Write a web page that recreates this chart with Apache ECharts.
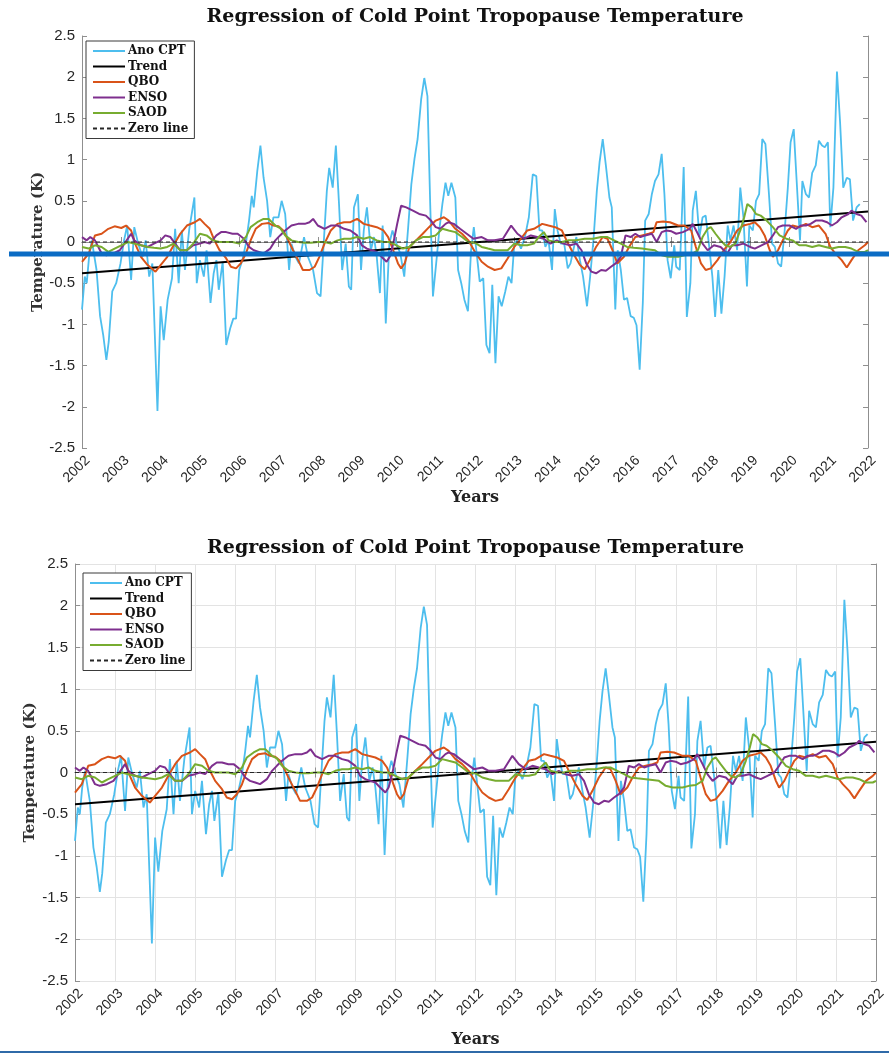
<!DOCTYPE html>
<html>
<head>
<meta charset="utf-8">
<script src="https://cdn.jsdelivr.net/npm/echarts@6/dist/echarts.min.js"></script>
<style>
  html, body { margin: 0; padding: 0; background: #fff; }
  #chart { width: 889px; height: 1054px; }
</style>
</head>
<body>
<div id="chart"></div>
<script>
// values, [decimal year, K]
const anoCpt = [
  [2002.00,-0.82],[2002.07,-0.42],[2002.12,-0.50],[2002.18,-0.18],[2002.25,0.02],[2002.37,-0.34],[2002.46,-0.90],
  [2002.54,-1.13],[2002.62,-1.43],[2002.68,-1.21],[2002.77,-0.60],[2002.87,-0.50],[2002.98,-0.26],[2003.07,0.02],
  [2003.15,0.20],[2003.25,-0.46],[2003.33,0.18],[2003.43,-0.02],[2003.54,-0.18],[2003.62,0.02],[2003.71,-0.42],
  [2003.79,-0.26],[2003.92,-2.05],[2004.00,-0.78],[2004.08,-1.19],[2004.18,-0.70],[2004.29,-0.44],[2004.37,0.16],
  [2004.46,-0.50],[2004.54,0.14],[2004.62,-0.34],[2004.73,0.16],[2004.86,0.54],[2004.92,-0.50],[2005.00,-0.22],
  [2005.10,-0.42],[2005.17,-0.10],[2005.27,-0.74],[2005.35,-0.38],[2005.42,-0.22],[2005.48,-0.58],[2005.58,-0.24],
  [2005.67,-1.25],[2005.77,-1.05],[2005.85,-0.93],[2005.92,-0.93],[2006.00,-0.34],[2006.08,-0.22],[2006.17,-0.02],
  [2006.25,0.26],[2006.32,0.56],[2006.37,0.42],[2006.46,0.86],[2006.54,1.17],[2006.62,0.78],[2006.71,0.50],
  [2006.79,0.06],[2006.87,0.30],[2007.00,0.30],[2007.08,0.50],[2007.17,0.34],[2007.27,-0.34],[2007.33,-0.02],
  [2007.43,-0.18],[2007.52,-0.26],[2007.65,0.06],[2007.75,-0.18],[2007.88,-0.34],[2007.98,-0.62],[2008.07,-0.66],
  [2008.15,-0.02],[2008.23,0.62],[2008.29,0.90],[2008.38,0.66],[2008.46,1.17],[2008.54,0.46],[2008.62,-0.34],
  [2008.71,-0.02],[2008.79,-0.54],[2008.85,-0.58],[2008.92,0.42],[2009.02,0.58],[2009.10,-0.34],[2009.17,0.14],
  [2009.25,0.42],[2009.35,-0.10],[2009.43,0.06],[2009.50,-0.18],[2009.58,-0.62],[2009.65,0.20],[2009.73,-0.99],
  [2009.82,-0.02],[2009.90,0.14],[2010.00,-0.02],[2010.10,-0.14],[2010.20,-0.42],[2010.30,0.18],[2010.38,0.70],
  [2010.46,1.01],[2010.54,1.25],[2010.63,1.73],[2010.71,1.99],[2010.79,1.77],[2010.86,0.46],[2010.93,-0.66],
  [2011.02,-0.22],[2011.10,0.18],[2011.17,0.46],[2011.25,0.72],[2011.32,0.56],[2011.40,0.72],[2011.50,0.54],
  [2011.57,-0.34],[2011.65,-0.50],[2011.73,-0.70],[2011.82,-0.84],[2011.90,-0.10],[2011.97,0.18],[2012.07,-0.26],
  [2012.12,-0.48],[2012.21,-0.44],[2012.29,-1.25],[2012.37,-1.35],[2012.44,-0.52],[2012.52,-1.47],[2012.60,-0.66],
  [2012.68,-0.78],[2012.77,-0.60],[2012.85,-0.42],[2012.93,-0.50],[2013.00,-0.02],[2013.08,0.02],[2013.17,-0.08],
  [2013.27,0.06],[2013.37,0.30],[2013.47,0.82],[2013.56,0.80],[2013.64,0.14],[2013.71,0.14],[2013.79,-0.06],
  [2013.87,0.02],[2013.96,-0.34],[2014.03,0.40],[2014.10,0.14],[2014.18,-0.02],[2014.27,-0.02],[2014.36,-0.32],
  [2014.43,-0.26],[2014.50,-0.10],[2014.58,0.06],[2014.67,-0.22],[2014.75,-0.42],[2014.85,-0.78],[2014.93,-0.42],
  [2015.02,0.06],[2015.10,0.62],[2015.17,0.97],[2015.25,1.25],[2015.33,0.93],[2015.42,0.54],[2015.48,0.42],
  [2015.57,-0.82],[2015.63,-0.10],[2015.71,-0.34],[2015.79,-0.70],[2015.87,-0.68],[2015.96,-0.90],[2016.04,-0.92],
  [2016.11,-1.01],[2016.19,-1.55],[2016.27,-0.74],[2016.33,0.26],[2016.42,0.34],[2016.50,0.58],[2016.58,0.74],
  [2016.67,0.82],[2016.75,1.07],[2016.82,0.58],[2016.90,-0.22],[2016.98,-0.44],[2017.07,-0.04],[2017.12,-0.30],
  [2017.21,-0.34],[2017.25,0.14],[2017.31,0.91],[2017.39,-0.91],[2017.48,-0.50],[2017.54,0.38],[2017.62,0.62],
  [2017.71,0.06],[2017.79,0.30],[2017.87,0.32],[2017.96,-0.06],[2018.04,-0.42],[2018.11,-0.91],[2018.19,-0.34],
  [2018.27,-0.87],[2018.35,-0.42],[2018.43,0.20],[2018.50,0.02],[2018.58,0.20],[2018.67,-0.10],[2018.75,0.66],
  [2018.83,0.30],[2018.92,-0.54],[2018.98,0.20],[2019.07,0.14],[2019.15,0.50],[2019.23,0.58],[2019.31,1.25],
  [2019.39,1.19],[2019.48,0.58],[2019.56,-0.02],[2019.63,-0.06],[2019.71,-0.26],[2019.79,-0.30],[2019.88,0.14],
  [2019.96,0.66],[2020.03,1.21],[2020.11,1.37],[2020.18,0.78],[2020.27,0.02],[2020.33,0.74],[2020.42,0.58],
  [2020.50,0.54],[2020.58,0.84],[2020.67,0.93],[2020.75,1.23],[2020.83,1.17],[2020.90,1.15],[2020.98,1.21],
  [2021.04,0.18],[2021.12,0.66],[2021.21,2.07],[2021.29,1.45],[2021.37,0.66],[2021.46,0.78],[2021.54,0.76],
  [2021.62,0.26],[2021.71,0.42],[2021.79,0.46]
]
const trend = [[2002, -0.38], [2022, 0.37]]
const zeroLine = [[2002, 0], [2022, 0]]
const qbo = [
  [2002.00,-0.24],[2002.17,-0.14],[2002.33,0.08],[2002.50,0.10],[2002.67,0.16],[2002.83,0.19],[2003.00,0.17],
  [2003.12,0.20],[2003.25,0.14],[2003.37,-0.04],[2003.50,-0.18],[2003.67,-0.28],[2003.87,-0.36],[2004.00,-0.28],
  [2004.17,-0.18],[2004.33,-0.04],[2004.50,0.10],[2004.67,0.20],[2004.87,0.24],[2005.00,0.28],[2005.12,0.22],
  [2005.25,0.16],[2005.37,0.02],[2005.50,-0.10],[2005.67,-0.20],[2005.79,-0.30],[2005.92,-0.32],[2006.04,-0.26],
  [2006.17,-0.14],[2006.29,0.02],[2006.42,0.16],[2006.58,0.22],[2006.75,0.23],[2006.87,0.20],[2007.00,0.19],
  [2007.12,0.14],[2007.25,0.02],[2007.37,-0.10],[2007.50,-0.22],[2007.62,-0.34],[2007.79,-0.34],[2007.92,-0.30],
  [2008.04,-0.18],[2008.17,-0.02],[2008.33,0.14],[2008.50,0.22],[2008.67,0.24],[2008.83,0.24],[2009.00,0.28],
  [2009.17,0.22],[2009.33,0.20],[2009.50,0.18],[2009.67,0.14],[2009.79,0.06],[2009.92,-0.10],[2010.04,-0.26],
  [2010.12,-0.32],[2010.21,-0.26],[2010.33,-0.06],[2010.50,0.02],[2010.67,0.10],[2010.83,0.18],[2011.00,0.26],
  [2011.21,0.30],[2011.33,0.26],[2011.50,0.16],[2011.67,0.10],[2011.83,0.02],[2012.00,-0.12],[2012.17,-0.24],
  [2012.33,-0.30],[2012.50,-0.34],[2012.67,-0.32],[2012.83,-0.20],[2013.00,-0.06],[2013.17,0.04],[2013.33,0.14],
  [2013.50,0.16],[2013.71,0.22],[2013.87,0.20],[2014.04,0.18],[2014.21,0.14],[2014.33,0.02],[2014.50,-0.14],
  [2014.67,-0.28],[2014.79,-0.33],[2014.92,-0.22],[2015.08,-0.06],[2015.25,0.06],[2015.37,0.04],[2015.50,-0.10],
  [2015.62,-0.26],[2015.79,-0.18],[2015.92,-0.06],[2016.08,0.06],[2016.25,0.08],[2016.42,0.10],[2016.54,0.12],
  [2016.62,0.24],[2016.79,0.25],[2016.96,0.24],[2017.17,0.20],[2017.33,0.20],[2017.50,0.14],[2017.62,-0.06],
  [2017.75,-0.26],[2017.87,-0.34],[2018.00,-0.32],[2018.17,-0.22],[2018.33,-0.10],[2018.50,0.00],[2018.67,0.14],
  [2018.83,0.20],[2019.00,0.22],[2019.12,0.24],[2019.25,0.18],[2019.37,0.08],[2019.50,-0.10],[2019.58,-0.18],
  [2019.71,-0.10],[2019.83,0.02],[2019.96,0.14],[2020.08,0.20],[2020.25,0.18],[2020.42,0.22],[2020.58,0.18],
  [2020.75,0.20],[2020.92,0.10],[2021.04,-0.06],[2021.17,-0.14],[2021.33,-0.22],[2021.46,-0.31],[2021.58,-0.22],
  [2021.75,-0.10],[2021.92,-0.04],[2022.00,0.00]
]
const enso = [
  [2002.00,0.06],[2002.12,0.02],[2002.21,0.06],[2002.33,0.02],[2002.50,-0.14],[2002.62,-0.16],[2002.79,-0.14],
  [2002.96,-0.10],[2003.08,-0.02],[2003.25,0.10],[2003.33,0.02],[2003.50,-0.04],[2003.67,-0.06],[2003.83,-0.02],
  [2004.00,0.02],[2004.12,0.08],[2004.25,0.06],[2004.37,-0.02],[2004.50,-0.10],[2004.67,-0.10],[2004.83,-0.04],
  [2005.00,-0.02],[2005.12,0.00],[2005.25,-0.02],[2005.42,0.08],[2005.54,0.12],[2005.67,0.12],[2005.83,0.10],
  [2005.96,0.10],[2006.12,0.04],[2006.25,-0.06],[2006.37,-0.10],[2006.50,-0.12],[2006.62,-0.14],[2006.79,-0.08],
  [2006.92,0.02],[2007.04,0.08],[2007.17,0.14],[2007.33,0.20],[2007.50,0.22],[2007.67,0.22],[2007.79,0.24],
  [2007.88,0.28],[2008.00,0.20],[2008.17,0.16],[2008.33,0.20],[2008.50,0.20],[2008.67,0.16],[2008.83,0.14],
  [2009.00,0.08],[2009.12,-0.04],[2009.25,-0.08],[2009.37,-0.10],[2009.50,-0.12],[2009.62,-0.18],[2009.75,-0.24],
  [2009.83,-0.18],[2009.92,-0.02],[2010.02,0.22],[2010.12,0.44],[2010.25,0.42],[2010.42,0.38],[2010.58,0.34],
  [2010.75,0.32],[2010.88,0.26],[2011.00,0.18],[2011.12,0.16],[2011.25,0.22],[2011.33,0.24],[2011.46,0.22],
  [2011.62,0.16],[2011.79,0.10],[2011.96,0.04],[2012.17,0.06],[2012.33,0.02],[2012.50,0.02],[2012.71,0.04],
  [2012.92,0.20],[2013.08,0.10],[2013.25,0.04],[2013.42,0.08],[2013.58,0.06],[2013.75,0.04],[2013.92,-0.02],
  [2014.08,0.02],[2014.25,-0.02],[2014.42,-0.04],[2014.58,-0.02],[2014.71,-0.10],[2014.83,-0.26],[2014.96,-0.36],
  [2015.08,-0.38],[2015.21,-0.34],[2015.33,-0.35],[2015.46,-0.30],[2015.58,-0.26],[2015.71,-0.18],[2015.83,0.08],
  [2015.96,0.06],[2016.08,0.10],[2016.21,0.06],[2016.33,0.08],[2016.50,0.10],[2016.62,0.00],[2016.75,0.12],
  [2016.87,0.14],[2017.00,0.13],[2017.12,0.10],[2017.29,0.12],[2017.46,0.16],[2017.54,0.22],[2017.67,0.10],
  [2017.79,-0.02],[2017.92,-0.10],[2018.08,-0.04],[2018.25,-0.06],[2018.42,-0.14],[2018.54,-0.04],[2018.67,-0.04],
  [2018.83,-0.02],[2019.00,-0.06],[2019.12,-0.08],[2019.29,-0.04],[2019.46,0.00],[2019.58,0.08],[2019.71,0.18],
  [2019.83,0.20],[2020.00,0.20],[2020.17,0.16],[2020.29,0.20],[2020.42,0.20],[2020.54,0.22],[2020.67,0.26],
  [2020.83,0.26],[2020.96,0.24],[2021.08,0.20],[2021.21,0.24],[2021.33,0.30],[2021.50,0.34],[2021.58,0.38],
  [2021.71,0.34],[2021.83,0.32],[2021.96,0.24]
]
const saod = [
  [2002.00,-0.06],[2002.17,-0.08],[2002.33,-0.04],[2002.50,-0.06],[2002.67,-0.12],[2002.83,-0.08],[2003.00,-0.04],
  [2003.17,0.00],[2003.33,-0.02],[2003.50,-0.04],[2003.67,-0.06],[2003.83,-0.07],[2004.00,-0.08],[2004.17,-0.06],
  [2004.33,-0.02],[2004.50,-0.10],[2004.67,-0.10],[2004.83,-0.02],[2005.00,0.10],[2005.17,0.08],[2005.33,0.02],
  [2005.50,0.00],[2005.67,0.00],[2005.83,0.00],[2006.00,-0.02],[2006.17,0.06],[2006.29,0.18],[2006.46,0.24],
  [2006.62,0.28],[2006.75,0.28],[2006.92,0.20],[2007.04,0.17],[2007.17,0.08],[2007.33,0.02],[2007.50,0.00],
  [2007.67,-0.01],[2007.83,-0.01],[2008.00,0.00],[2008.17,0.00],[2008.33,-0.02],[2008.50,0.02],[2008.67,0.04],
  [2008.83,0.04],[2009.00,0.06],[2009.17,0.04],[2009.33,0.06],[2009.50,0.02],[2009.67,0.00],[2009.83,0.00],
  [2010.00,-0.04],[2010.17,-0.08],[2010.33,-0.06],[2010.50,0.02],[2010.67,0.06],[2010.83,0.06],[2011.00,0.08],
  [2011.17,0.16],[2011.33,0.14],[2011.50,0.12],[2011.67,0.06],[2011.83,0.00],[2012.00,-0.01],[2012.17,-0.06],
  [2012.33,-0.08],[2012.50,-0.10],[2012.67,-0.10],[2012.83,-0.10],[2013.00,-0.02],[2013.17,-0.04],[2013.33,-0.04],
  [2013.50,-0.02],[2013.62,0.06],[2013.75,0.12],[2013.87,0.02],[2014.04,0.00],[2014.21,0.00],[2014.37,0.02],
  [2014.58,0.02],[2014.79,0.04],[2015.00,0.04],[2015.21,0.06],[2015.37,0.06],[2015.54,0.02],[2015.71,-0.02],
  [2015.87,-0.06],[2016.04,-0.07],[2016.25,-0.08],[2016.42,-0.09],[2016.58,-0.10],[2016.75,-0.16],[2016.92,-0.18],
  [2017.17,-0.18],[2017.33,-0.16],[2017.50,-0.15],[2017.67,-0.10],[2017.79,0.06],[2017.92,0.16],[2018.00,0.18],
  [2018.12,0.10],[2018.25,0.02],[2018.37,-0.04],[2018.50,-0.06],[2018.62,-0.02],[2018.75,0.14],[2018.85,0.30],
  [2018.93,0.46],[2019.04,0.42],[2019.15,0.34],[2019.27,0.32],[2019.42,0.26],[2019.58,0.18],[2019.75,0.08],
  [2019.92,0.04],[2020.08,0.02],[2020.25,-0.04],[2020.42,-0.04],[2020.58,-0.06],[2020.75,-0.04],[2020.92,-0.06],
  [2021.08,-0.08],[2021.25,-0.06],[2021.42,-0.06],[2021.58,-0.08],[2021.75,-0.12],[2021.92,-0.12],[2022.00,-0.10]
]
const yearTicks = [2002, 2022]
const seriesNames = ["Ano CPT", "Trend", "QBO", "ENSO", "SAOD", "Zero line"]
const seriesColors = ["#4DBEEE", "#000000", "#D95319", "#7E2F8E", "#77AC30", "#262626"]
const titleText = "Regression of Cold Point Tropopause Temperature"

const chart = echarts.init(document.getElementById("chart"), null, { renderer: "canvas" })

const axisGray = "#8f8f8f"
const tickFont = "Liberation Sans"
const serif = "DejaVu Serif"

// two stacked panels, top without grid lines, bottom with grid
const panels = [
	{ left: 82, top: 36, width: 786, height: 412, grid: false, legendLeft: 86, legendTop: 41, titleY: 17, yLabelX: 38, yearsY: 498 },
	{ left: 75, top: 564, width: 801, height: 417, grid: true, legendLeft: 83, legendTop: 573, titleY: 548, yLabelX: 30, yearsY: 1040 },
]

const grid = []
const xAxis = []
const yAxis = []
const series = []
const legend = []
const graphic = []

panels.forEach((p, idx) => {
	grid.push({ left: p.left, top: p.top, width: p.width, height: p.height, containLabel: false })
	const splitLine = { show: p.grid, lineStyle: { color: "#e3e3e3", width: 1 } }
	xAxis.push({
		type: "value",
		gridIndex: idx,
		min: yearTicks[0],
		max: yearTicks[1],
		interval: 1,
		axisLine: { show: true, lineStyle: { color: axisGray, width: 1 } },
		axisTick: { show: true, inside: true, length: 5, lineStyle: { color: axisGray } },
		axisLabel: {
			rotate: 45,
			margin: 16,
			padding: [0, -8, 0, 0],
			color: "#262626",
			fontFamily: tickFont,
			fontSize: 14,
			formatter: v => String(v),
		},
		splitLine,
	})
	xAxis.push({
		type: "value",
		gridIndex: idx,
		position: "top",
		min: yearTicks[0],
		max: yearTicks[1],
		interval: 1,
		axisLine: { show: true, lineStyle: { color: axisGray, width: 1 } },
		axisTick: { show: true, inside: true, length: 5, lineStyle: { color: axisGray } },
		axisLabel: { show: false },
		splitLine: { show: false },
	})
	yAxis.push({
		type: "value",
		gridIndex: idx,
		min: -2.5,
		max: 2.5,
		interval: 0.5,
		axisLine: { show: true, lineStyle: { color: axisGray, width: 1 } },
		axisTick: { show: true, inside: true, length: 5, lineStyle: { color: axisGray } },
		axisLabel: {
			margin: 7,
			color: "#262626",
			fontFamily: tickFont,
			fontSize: 15,
			formatter: v => String(v),
		},
		splitLine,
	})
	yAxis.push({
		type: "value",
		gridIndex: idx,
		position: "right",
		min: -2.5,
		max: 2.5,
		interval: 0.5,
		axisLine: { show: true, lineStyle: { color: axisGray, width: 1 } },
		axisTick: { show: true, inside: true, length: 5, lineStyle: { color: axisGray } },
		axisLabel: { show: false },
		splitLine: { show: false },
	})

	const datasets = [anoCpt, trend, qbo, enso, saod, zeroLine]
	datasets.forEach((data, i) => {
		series.push({
			name: seriesNames[i],
			type: "line",
			xAxisIndex: idx * 2,
			yAxisIndex: idx * 2,
			data,
			symbol: "none",
			silent: true,
			z: i === 0 ? 2 : 3,
			color: seriesColors[i],
			lineStyle: {
				color: seriesColors[i],
				width: i === 5 ? 1 : i === 0 ? 1.8 : 2,
				type: i === 5 ? [4, 3] : "solid",
			},
		})
	})

	legend.push({
		orient: "vertical",
		left: p.legendLeft,
		top: p.legendTop,
		data: seriesNames,
		itemWidth: 32,
		itemHeight: 12,
		itemGap: 3.5,
		padding: [4, 6, 4, 6],
		backgroundColor: "#fff",
		borderColor: "#3a3a3a",
		borderWidth: 1,
		borderRadius: 0,
		selectedMode: false,
		itemStyle: { opacity: 0 },
		textStyle: { fontFamily: serif, fontWeight: "bold", fontSize: 12, color: "#111", padding: [0, 0, 0, -2] },
	})

	graphic.push(
		{
			type: "text",
			x: p.left + p.width / 2,
			y: p.titleY,
			style: { text: titleText, font: `bold 19px '${serif}'`, fill: "#111", textAlign: "center", textVerticalAlign: "middle" },
		},
		{
			type: "text",
			x: p.left + p.width / 2,
			y: p.yearsY,
			style: { text: "Years", font: `bold 16px '${serif}'`, fill: "#222", textAlign: "center", textVerticalAlign: "middle" },
		},
		{
			type: "text",
			x: p.yLabelX,
			y: p.top + p.height / 2,
			rotation: Math.PI / 2,
			style: { text: "Temperature (K)", font: `bold 15px '${serif}'`, fill: "#333", textAlign: "center", textVerticalAlign: "middle" },
		}
	)
})

// annotation strokes laid over the figure
graphic.push(
	{ type: "line", z: 100, shape: { x1: 9, y1: 254, x2: 889, y2: 254 }, style: { stroke: "#0b6cc4", lineWidth: 5 } },
	{ type: "line", z: 100, shape: { x1: 0, y1: 1052, x2: 889, y2: 1052 }, style: { stroke: "#2f6aa8", lineWidth: 2 } }
)

chart.setOption({
	animation: false,
	backgroundColor: "#fff",
	grid,
	xAxis,
	yAxis,
	legend,
	series,
	graphic,
})
</script>
</body>
</html>
